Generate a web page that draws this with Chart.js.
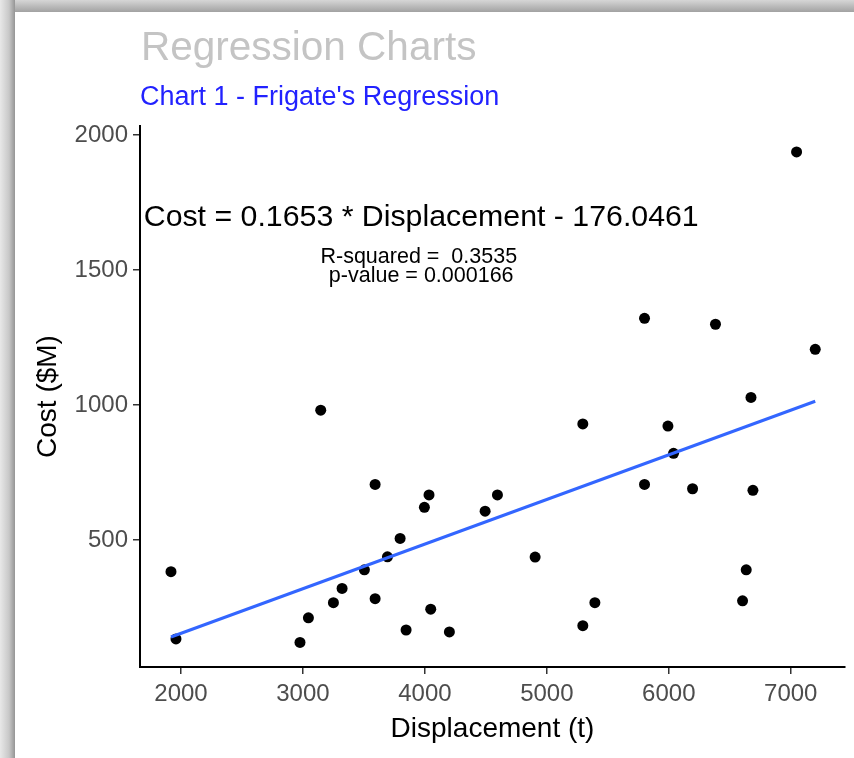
<!DOCTYPE html>
<html>
<head>
<meta charset="utf-8">
<script src="https://cdn.jsdelivr.net/npm/chart.js@4/dist/chart.umd.min.js"></script>
<style>
  html, body { margin: 0; padding: 0; background: #fff; }
  #wrap { position: relative; width: 854px; height: 758px; overflow: hidden; }
  #frameTop { position: absolute; left: 0; top: 0; width: 854px; height: 12px;
    background: linear-gradient(to bottom, #d6d6d6, #a2a2a2); }
  #frameLeft { position: absolute; left: 0; top: 0; width: 15px; height: 758px;
    background: linear-gradient(to right, #e8e8e8, #c8c8c8 60%, #959595); }
</style>
</head>
<body>
<div id="wrap">
  <canvas id="grafico" width="854" height="758"></canvas>
  <div id="frameTop"></div>
  <div id="frameLeft"></div>
</div>
<script>
// valores
const displacement = [1918, 1959, 2976, 3045, 3146, 3250, 3321, 3504, 3592, 3592,
  3693, 3797, 3846, 3996, 4034, 4048, 4201, 4494, 4595, 4904,
  5295, 5295, 5394, 5801, 5801, 5993, 6039, 6195, 6383, 6605,
  6635, 6674, 6690, 7048, 7201];
const cost = [383, 134, 121, 212, 981, 268, 321, 390, 706, 283,
  438, 506, 167, 621, 667, 244, 160, 607, 667, 437,
  930, 183, 268, 1321, 706, 922, 821, 690, 1299, 275,
  390, 1028, 684, 1937, 1206];

// reta de regressão (extremos)
const fitDisplacement = [1918, 7201];
const fitCost = [141, 1014];

const xTicks = [2000, 3000, 4000, 5000, 6000, 7000];
const yTicks = [500, 1000, 1500, 2000];

const mainTitle = 'Regression Charts';
const subTitle = "Chart 1 - Frigate's Regression";
const equationText = 'Cost = 0.1653 * Displacement - 176.0461';
const rSquaredText = 'R-squared =  0.3535';
const pValueText = 'p-value = 0.000166';

const fonte = '"Liberation Sans", Arial, sans-serif';

const pontos = displacement.map((d, i) => ({ x: d, y: cost[i] }));
const reta = fitDisplacement.map((d, i) => ({ x: d, y: fitCost[i] }));

// textos fixos: títulos e anotações da regressão
const textosPlugin = {
  id: 'textos',
  afterDraw(chart) {
    const ctx = chart.ctx;
    const x = chart.scales.x;
    const y = chart.scales.y;
    ctx.save();
    ctx.textAlign = 'left';
    ctx.textBaseline = 'alphabetic';
    ctx.font = '40.5px ' + fonte;
    ctx.fillStyle = '#c4c4c4';
    ctx.fillText(mainTitle, 141, 60);
    ctx.font = '27px ' + fonte;
    ctx.fillStyle = '#2222ff';
    ctx.fillText(subTitle, 140, 105);

    ctx.textAlign = 'center';
    ctx.textBaseline = 'middle';
    ctx.fillStyle = '#000';
    ctx.font = '30.3px ' + fonte;
    ctx.fillText(equationText, x.getPixelForValue(3970), y.getPixelForValue(1693));
    ctx.font = '21.5px ' + fonte;
    ctx.fillText(rSquaredText, x.getPixelForValue(3950), y.getPixelForValue(1548));
    ctx.fillText(pValueText, x.getPixelForValue(3970), y.getPixelForValue(1478));
    ctx.restore();
  }
};

const semVirgula = v => String(v);

const ctx = document.getElementById('grafico').getContext('2d');
new Chart(ctx, {
  type: 'scatter',
  data: {
    datasets: [
      {
        label: 'Regressão',
        type: 'line',
        data: reta,
        borderColor: '#3366ff',
        borderWidth: 3,
        pointRadius: 0,
        fill: false
      },
      {
        label: 'Fragatas',
        data: pontos,
        backgroundColor: '#000',
        borderColor: '#000',
        pointRadius: 5.5,
        borderWidth: 0
      }
    ]
  },
  options: {
    responsive: false,
    animation: false,
    layout: { padding: { left: 0, right: 9, top: 126, bottom: 0 } },
    scales: {
      x: {
        type: 'linear',
        min: 1664,
        max: 7445,
        afterFit: scale => { scale.height = 91; },
        afterBuildTicks: scale => { scale.ticks = xTicks.map(v => ({ value: v })); },
        border: { display: true, color: '#000', width: 2 },
        grid: { drawOnChartArea: false, drawTicks: true, tickLength: 7, color: '#333', lineWidth: 1.5 },
        ticks: { color: '#4d4d4d', padding: 6, font: { family: fonte, size: 24 }, maxRotation: 0, callback: semVirgula },
        title: {
          display: true,
          text: 'Displacement (t)',
          color: '#000',
          font: { family: fonte, size: 28 },
          padding: { top: 0, bottom: 12 }
        }
      },
      y: {
        type: 'linear',
        min: 30,
        max: 2033,
        afterFit: scale => { scale.width = 140; },
        afterBuildTicks: scale => { scale.ticks = yTicks.map(v => ({ value: v })); },
        border: { display: true, color: '#000', width: 2 },
        grid: { drawOnChartArea: false, drawTicks: true, tickLength: 7, color: '#333', lineWidth: 1.5 },
        ticks: { color: '#4d4d4d', padding: 5, font: { family: fonte, size: 24 }, callback: semVirgula },
        title: {
          display: true,
          text: 'Cost ($M)',
          color: '#000',
          font: { family: fonte, size: 28 },
          padding: { top: 31, bottom: 0 }
        }
      }
    },
    plugins: {
      legend: { display: false },
      tooltip: { enabled: false }
    }
  },
  plugins: [textosPlugin]
});
</script>
</body>
</html>
